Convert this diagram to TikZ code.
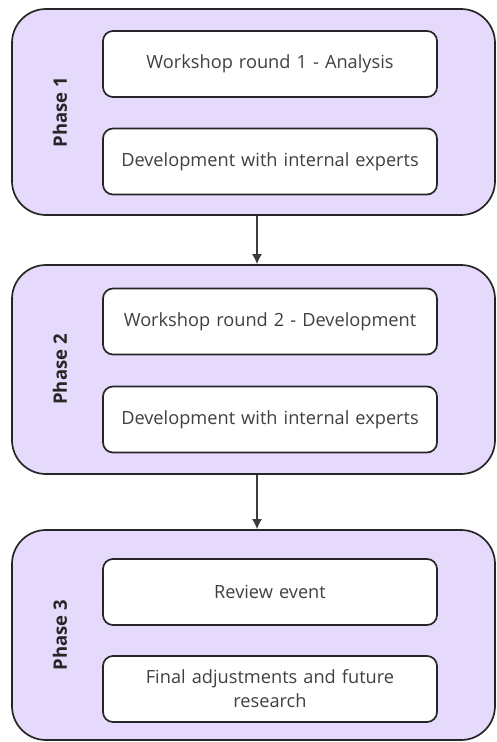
\documentclass[tikz,border=0pt]{standalone}
\usepackage{fontspec}
\setmainfont{Open Sans}
\usetikzlibrary{arrows.meta}
\definecolor{phasefill}{HTML}{E6DAFC}
\definecolor{edge}{HTML}{262626}
\definecolor{txt}{HTML}{404040}
\tikzset{
  phasebox/.style={draw=edge, fill=phasefill, line width=1.7pt, rounded corners=34pt,
    minimum width=483pt, inner sep=0pt},
  stepbox/.style={draw=edge, fill=white, line width=1.7pt, rounded corners=10pt,
    minimum width=334pt, minimum height=66pt, inner sep=2pt, text width=320pt,
    align=center, text=txt, font=\fontsize{18.2pt}{24pt}\selectfont},
  phaselabel/.style={rotate=90, text=edge, font=\bfseries\fontsize{18.5pt}{20pt}\selectfont},
  flow/.style={draw=edge!90, line width=1.4pt, -{Latex[length=10pt,width=10pt]}}
}
\begin{document}
\begin{tikzpicture}[x=1pt,y=-1pt]
\useasboundingbox (0,0) rectangle (496,742);
% phase containers
\node[phasebox, minimum height=206pt] (p1) at (253.5,112) {};
\node[phasebox, minimum height=209pt] (p2) at (253.5,369.5) {};
\node[phasebox, minimum height=210pt] (p3) at (253.5,635) {};
% phase titles
\node[phaselabel] (l1) at (60,112) {Phase 1};
\node[phaselabel] (l2) at (60,369.5) {Phase 2};
\node[phaselabel] (l3) at (60,635) {Phase 3};
% steps of each phase
\node[stepbox] (a1) at (270,64) {Workshop round 1 - Analysis};
\node[stepbox] (a2) at (270,161.5) {Development with internal experts};
\node[stepbox] (b1) at (270,321.5) {Workshop round 2 - Development};
\node[stepbox] (b2) at (270,419.5) {Development with internal experts};
\node[stepbox] (c1) at (270,592) {Review event};
\node[stepbox] (c2) at (270,689) {Final adjustments and future\\research};
% transitions between phases
\draw[flow] (p1.south -| 257,0) -- (p2.north -| 257,0);
\draw[flow] (p2.south -| 257,0) -- (p3.north -| 257,0);
\end{tikzpicture}
\end{document}
